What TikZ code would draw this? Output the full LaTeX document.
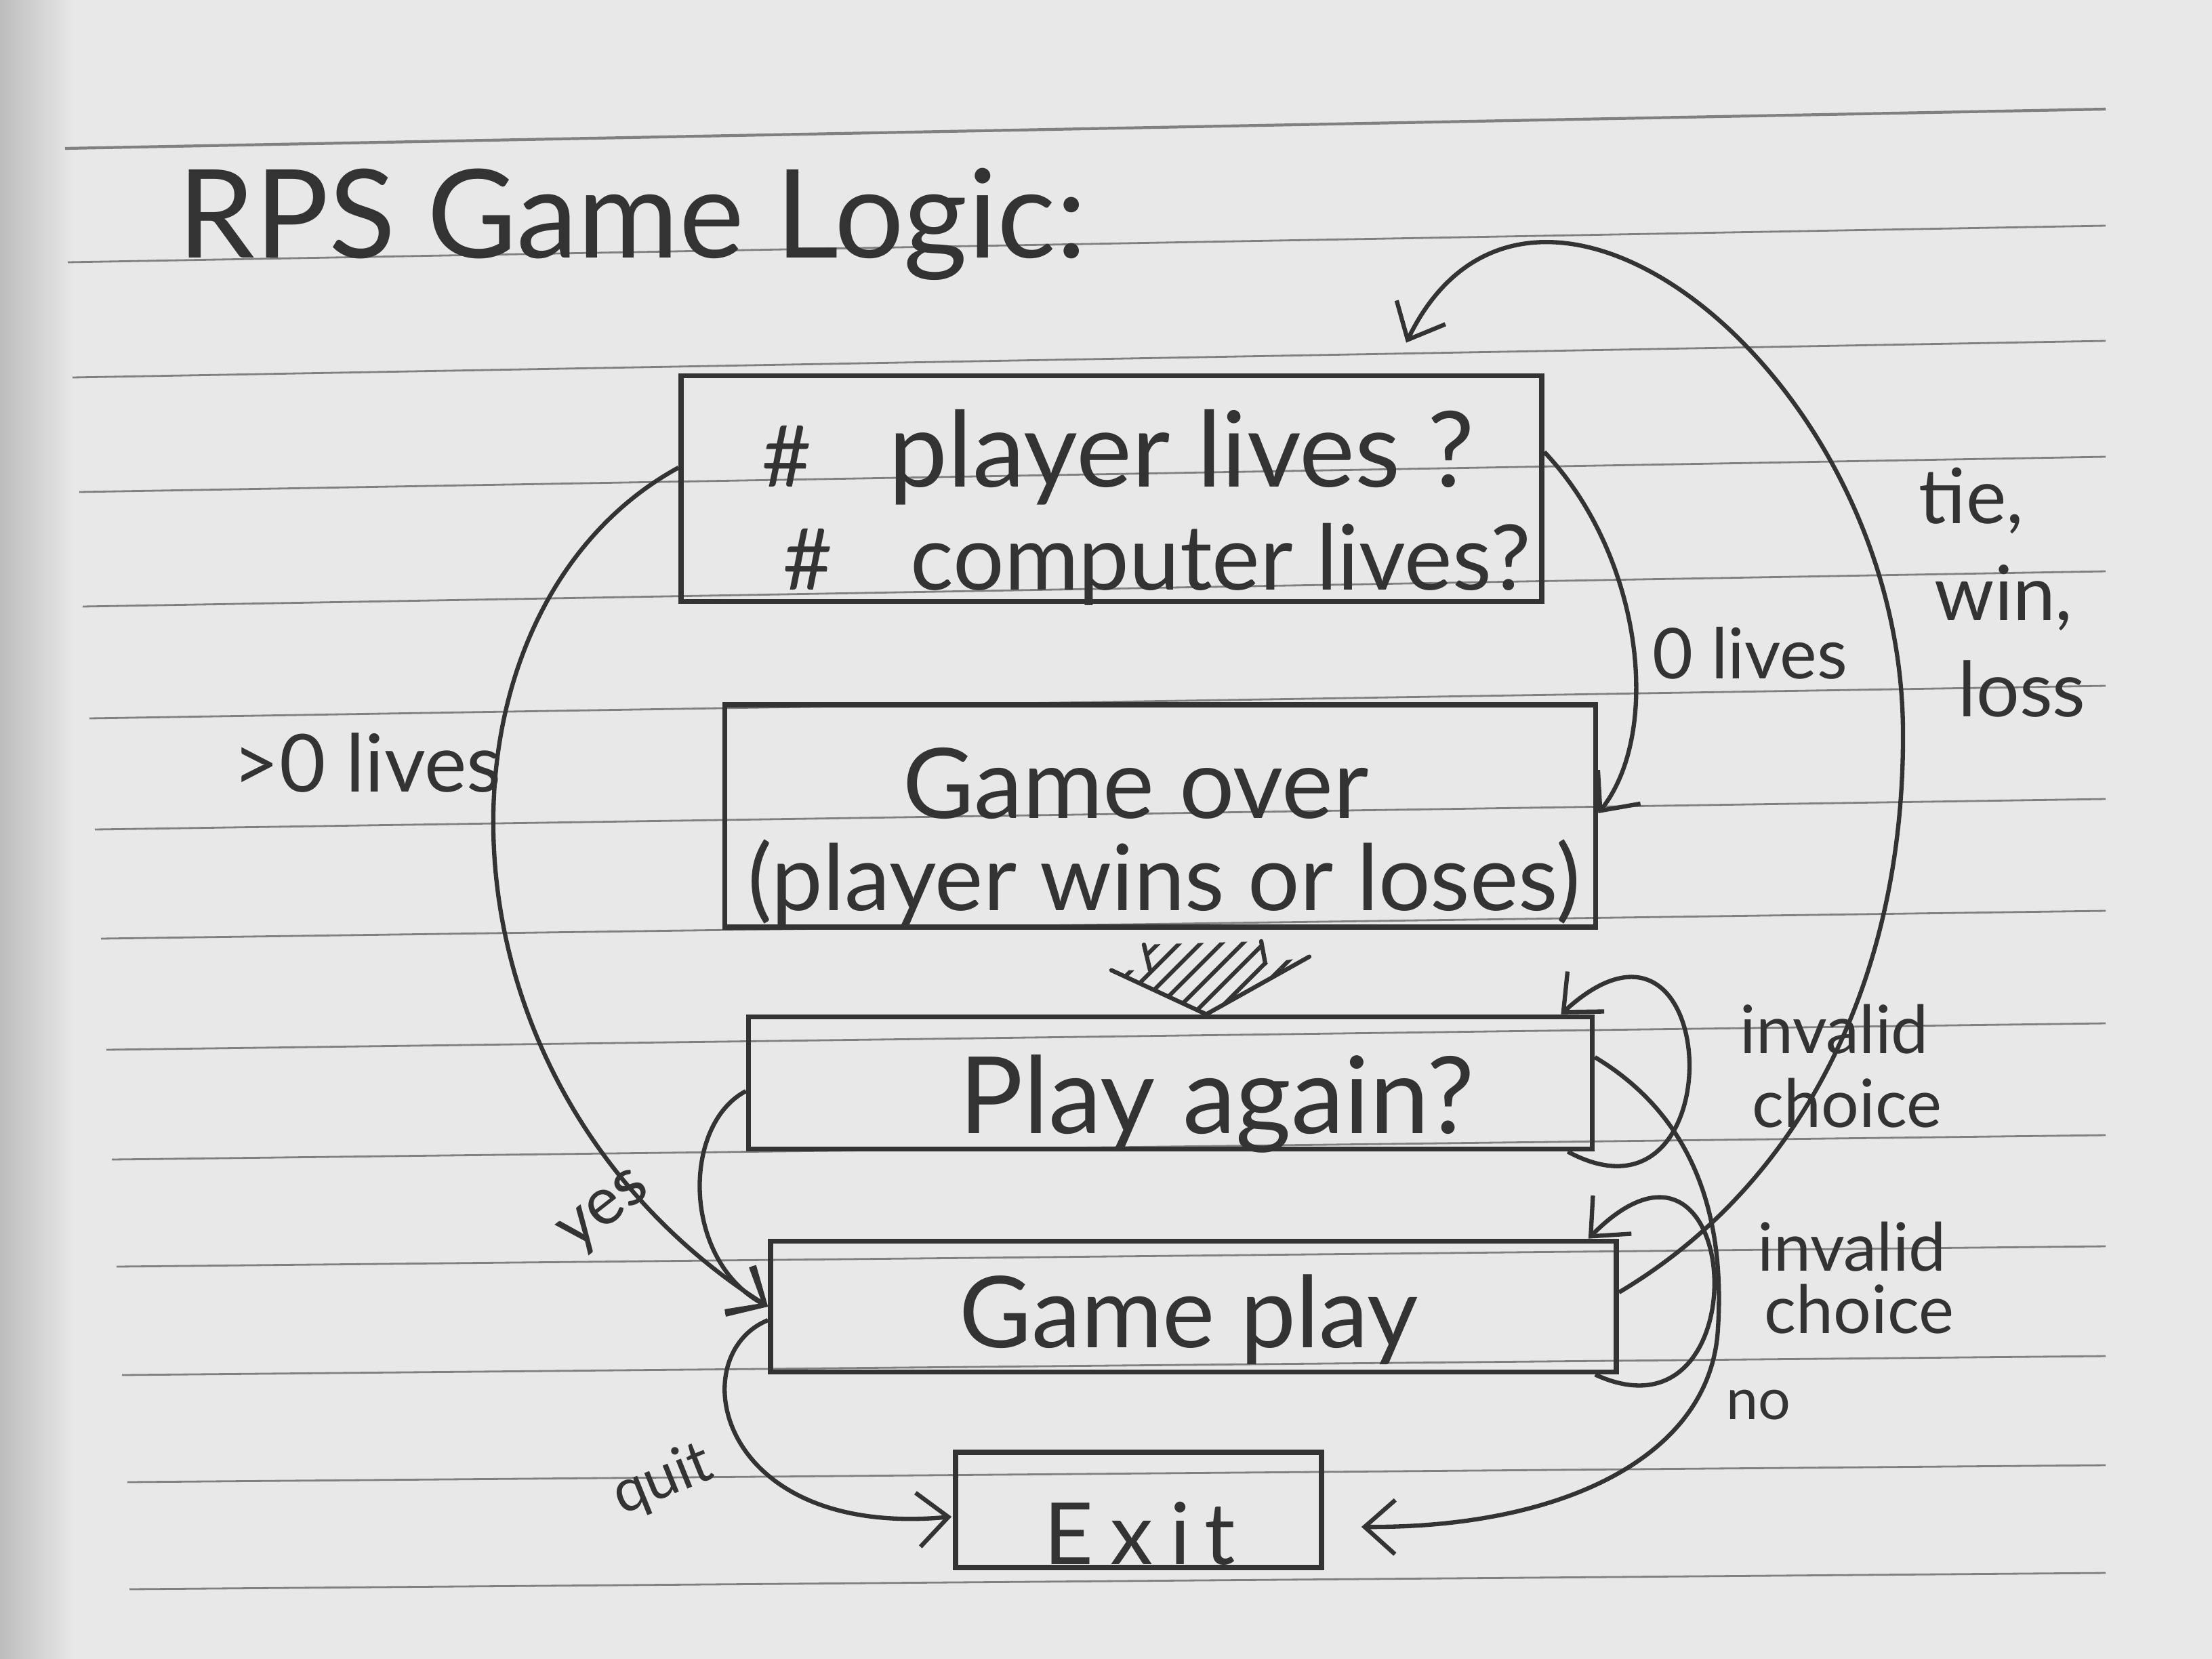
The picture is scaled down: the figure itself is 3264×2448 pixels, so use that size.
\documentclass[tikz,border=0pt]{standalone}
\usepackage{fontspec}
\usepackage{graphicx}
\newfontfamily\hand{Lato}
\usetikzlibrary{arrows.meta,calc,patterns.meta}
\definecolor{paper}{HTML}{E8E8E8}
\definecolor{ink}{HTML}{333333}
\definecolor{rulec}{HTML}{808080}
\definecolor{shadec}{HTML}{BDBDBD}
\begin{document}
\begin{tikzpicture}[x=0.1mm,y=-0.1mm,
  box/.style={draw=ink, line width=2.2pt, rectangle, inner sep=0pt},
  conn/.style={draw=ink, line width=1.8pt, -{Straight Barb[length=4.5mm,width=8mm]}},
  stroke/.style={draw=ink, line width=1.8pt, line cap=round},
  txt/.style={text=ink, inner sep=0pt, font=\hand},
  labA/.style={txt, font=\hand\fontsize{32pt}{34pt}\selectfont},
  labB/.style={txt, font=\hand\fontsize{28pt}{30pt}\selectfont},
  rulel/.style={draw=rulec, line width=0.8pt}]
\useasboundingbox (0,0) rectangle (3264,2448);
\fill[paper] (0,0) rectangle (3264,2448);
\shade[left color=shadec, right color=paper] (0,0) rectangle (110,2448);
% ruled paper lines
\draw[rulel, line width=1.2pt] (96,219) -- (3107,161);
\foreach \xl/\yl/\yr in {100/387/333, 107/557/503, 117/726/674, 122/895/843,
  132/1060/1012, 140/1224/1179, 149/1385/1344, 157/1549/1510, 165/1711/1675,
  172/1869/1839, 180/2029/2001, 188/2187/2162, 191/2345/2321}
  \draw[rulel] (\xl,\yl) -- (3107,\yr);

% title
\node[txt, anchor=base west] (title) at (262,380) {\resizebox{134mm}{!}{RPS Game Logic:}};

% boxes
\node[box, minimum width=127mm, minimum height=33.3mm] (lives) at (1640,721) {};
\node[box, minimum width=128.5mm, minimum height=32.8mm] (gameover) at (1712,1204) {};
\node[box, minimum width=124.5mm, minimum height=19.5mm] (again) at (1727,1598) {};
\node[box, minimum width=124.8mm, minimum height=19.3mm] (gameplay) at (1761,1928) {};
\node[box, minimum width=54mm, minimum height=17mm] (exitbox) at (1680,2228) {};

% box texts
\node[txt, anchor=base west] (h1) at (1124,718) {\resizebox{7.3mm}{!}{\#}};
\node[txt, anchor=base west] (l1) at (1311,718) {\resizebox{86.4mm}{!}{player lives ?}};
\node[txt, anchor=base west] (h2) at (1155,870) {\resizebox{7.3mm}{!}{\#}};
\node[txt, anchor=base west] (l2) at (1343,870) {\resizebox{91.5mm}{!}{computer lives?}};
\node[txt, anchor=base west] (go1) at (1332,1207) {\resizebox{68.7mm}{!}{Game over}};
\node[txt, anchor=base west] (go2) at (1103,1343) {\resizebox{122.8mm}{!}{(player wins or loses)}};
\node[txt, anchor=base west] (pa) at (1415,1672) {\resizebox{76mm}{!}{Play again?}};
\node[txt, anchor=base west] (gp) at (1415,1988) {\resizebox{67.7mm}{!}{Game play}};
\node[txt, anchor=base west, font=\hand\fontsize{36pt}{38pt}\selectfont] (ex) at (1540,2308) {E\kern2.5mm x\kern2.5mm i\kern2mm t};

% labels
\node[txt, anchor=base west] (lgt) at (343,1168) {\resizebox{39.6mm}{!}{>0 lives}};
\node[txt, anchor=base west] (lzero) at (2438,1001) {\resizebox{28.7mm}{!}{0 lives}};
\node[labA, anchor=base west] (ltie) at (2831,772) {tie,};
\node[labA, anchor=base west] (lwin) at (2854,915) {win,};
\node[labA, anchor=base west] (lloss) at (2889,1057) {loss};
\node[labB, anchor=base west] (linv1) at (2567,1554) {invalid};
\node[labB, anchor=base west] (lch1) at (2585,1663) {choice};
\node[labB, anchor=base west] (linv2) at (2593,1875) {invalid};
\node[labB, anchor=base west] (lch2) at (2603,1967) {choice};
\node[txt, anchor=base west, font=\hand\fontsize{24pt}{26pt}\selectfont] (lno) at (2547,2094) {no};
\node[labB, rotate=38] (lyes) at (895,1790) {yes};
\node[txt, rotate=22, font=\hand\fontsize{25pt}{27pt}\selectfont] (lquit) at (978,2185) {quit};

% connectors
\draw[conn] ($(lives.west)+(0,-31)$) .. controls +(-383,210) and +(-515,-328) .. (gameplay.west);
\draw[conn] ($(again.west)+(0,12)$) .. controls +(-95,50) and +(-127,-68) .. (gameplay.west);
\draw[conn] ($(gameplay.west)+(0,20)$) .. controls +(-127,52) and +(-348,32) .. ($(exitbox.west)+(-2,10)$);
\draw[conn] ($(lives.east)+(0,-54)$) .. controls +(145,153) and +(95,-120) .. ($(gameover.east)+(0,-4)$);
\draw[conn] ($(again.south east)+(-40,0)$) .. controls +(250,135) and +(240,-220) .. ($(again.north east)+(-50,0)$);
\draw[conn] ($(gameplay.south east)+(-35,0)$) .. controls +(250,115) and +(230,-232) .. ($(gameplay.north east)+(-45,0)$);
\coordinate (noturn) at (2535,1960);
\draw[conn] ($(again.east)+(0,-38)$) .. controls +(150,90) and +(10,-160) .. (noturn)
  .. controls +(-10,190) and +(295,2) .. ($(exitbox.east)+(55,25)$);
\coordinate (tieturn) at (2808,1080);
\draw[conn] ($(gameplay.east)+(0,-21)$) .. controls +(265,-157) and +(2,370) .. (tieturn)
  .. controls +(-2,-530) and +(185,-380) .. ($(lives.north)+(435,-45)$);

% hatched block arrow from Game over to Play again
\coordinate (ba) at ($(gameover.south)+(65,27)$);
\coordinate (bt) at ($(again.north)+(53,0)$);
\fill[pattern={Lines[angle=45,distance=2.2mm,line width=0.6mm]}, pattern color=ink]
  ($(ba)+(-89,-5)$) -- ($(bt)+(-83,-65)$) -- ($(bt)+(-140,-65)$) -- (bt)
  -- ($(bt)+(152,-85)$) -- ($(bt)+(87,-75)$) -- ($(ba)+(84,-10)$) -- cycle;
\draw[stroke] ($(ba)+(-89,-5)$) -- ($(bt)+(-83,-65)$);
\draw[stroke] ($(ba)+(84,-10)$) -- ($(bt)+(87,-75)$);
\draw[stroke] ($(bt)+(-140,-65)$) -- (bt) -- ($(bt)+(152,-85)$);
\end{tikzpicture}
\end{document}
